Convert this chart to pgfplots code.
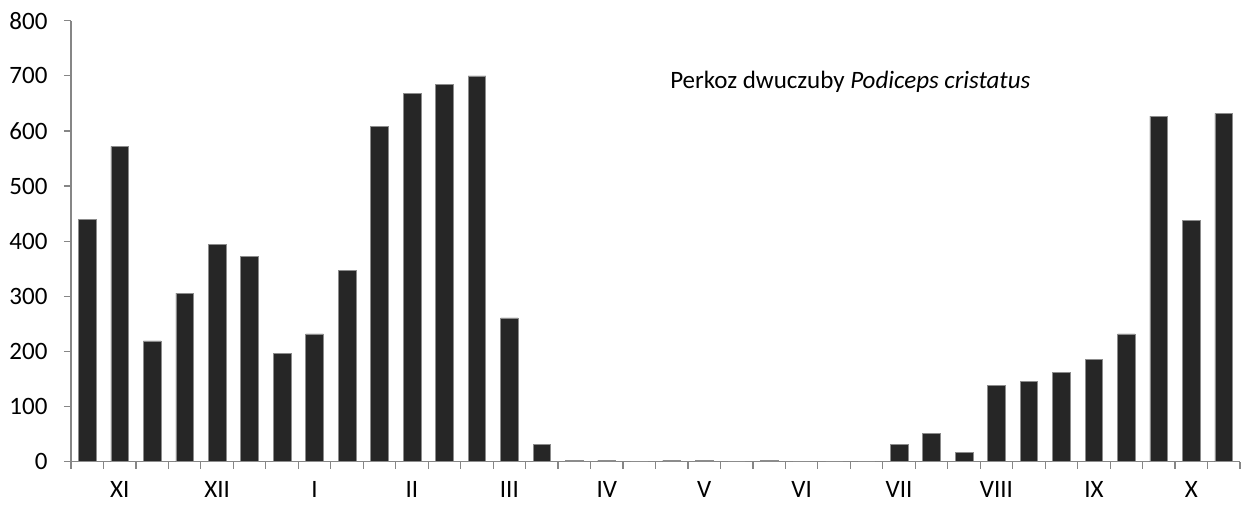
\documentclass[border=0pt]{standalone}
\usepackage{pgfplots}
\pgfplotsset{compat=1.18}
\usepackage{fontspec}
\setmainfont{Carlito}
\definecolor{barfill}{HTML}{262626}
\definecolor{baredge}{HTML}{8C8C8C}
\definecolor{axisgray}{HTML}{868686}
\begin{document}
\begin{tikzpicture}
\path[use as bounding box] (-71pt,-44.3pt) rectangle (1173pt,461.7pt);
\begin{axis}[
  at={(0,0)}, anchor=south west,
  scale only axis,
  width=1169pt, height=441pt,
  xmin=-0.5, xmax=35.5,
  ymin=0, ymax=800,
  ytick={0,100,...,800},
  xtick={1,4,...,34},
  xticklabels={XI,XII,I,II,III,IV,V,VI,VII,VIII,IX,X},
  minor xtick={-0.5,0.5,...,35.5},
  tick align=outside,
  major tick length=7pt,
  minor tick length=7pt,
  tick style={axisgray, line width=1.2pt},
  major x tick style={draw=none},
  axis x line*=bottom,
  axis y line*=left,
  axis line style={axisgray, line width=1.4pt},
  tick label style={font=\fontsize{25}{28}\selectfont},
  /pgf/number format/assume math mode=true,
  xticklabel style={yshift=-9pt},
  yticklabel style={xshift=-13pt},
  clip=false,
]
\addplot[ybar, bar width=0.545, fill=barfill, draw=baredge, line width=0.6pt]
  coordinates {
  (0,439) (1,572) (2,219)
  (3,306) (4,394) (5,372)
  (6,197) (7,232) (8,347)
  (9,608) (10,668) (11,685)
  (12,700) (13,261) (14,32)
  (15,3) (16,3) (17,0)
  (18,3) (19,3) (20,0)
  (21,3) (22,0) (23,0)
  (24,0) (25,32) (26,51)
  (27,17) (28,138) (29,145)
  (30,162) (31,186) (32,232)
  (33,627) (34,438) (35,632)
  };
\node[font=\fontsize{25}{28}\selectfont] at (axis cs:23.5,689)
  {Perkoz dwuczuby \textit{Podiceps cristatus}};
\end{axis}
\end{tikzpicture}
\end{document}
